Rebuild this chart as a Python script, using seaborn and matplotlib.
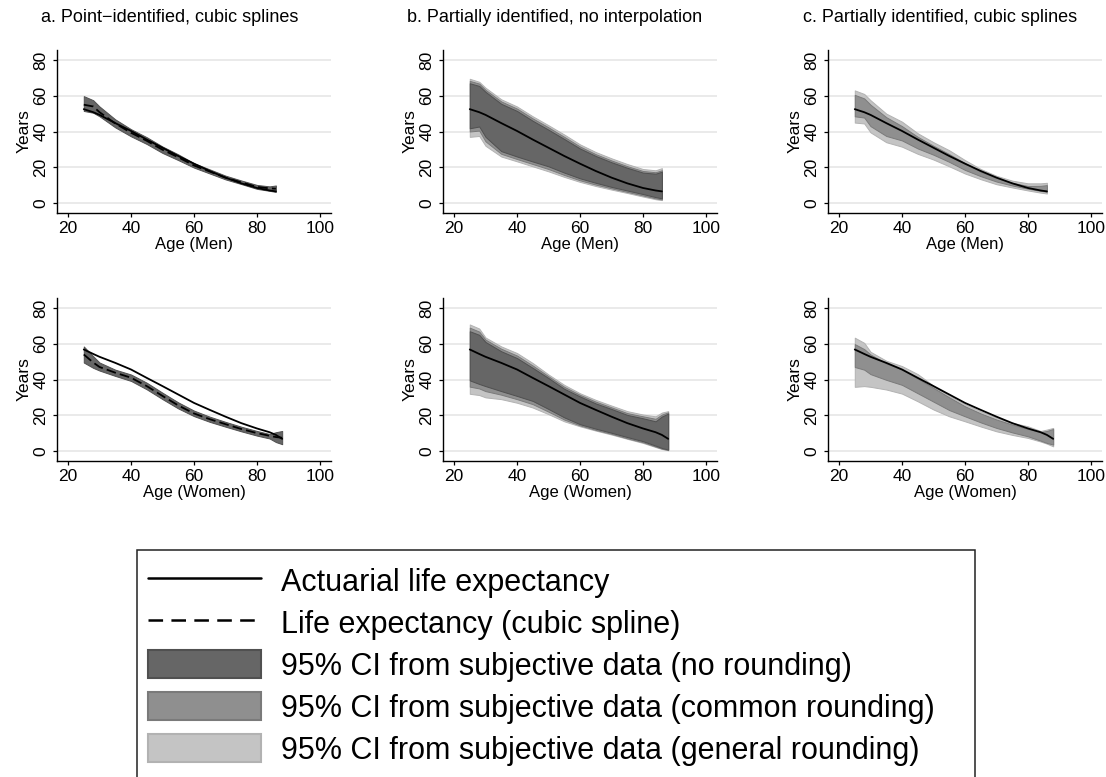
import matplotlib
matplotlib.use("Agg")
import matplotlib.pyplot as plt
import seaborn as sns
from matplotlib.patches import Rectangle, Patch
from matplotlib.lines import Line2D

# ---------------- data ----------------
ages_men = [25, 28, 30, 35, 40, 45, 50, 55, 60, 65, 70, 75, 80, 84, 86]
ages_women = [25, 28, 30, 35, 40, 45, 50, 55, 60, 65, 70, 75, 80, 84, 86, 88]

men_actuarial = [52.5, 50.8, 49.3, 44.7, 40.3, 35.5, 30.9, 26.3, 22.0, 17.9, 14.2, 11.0, 8.4, 7.0, 6.5]
women_actuarial = [56.8, 54.3, 52.7, 49.3, 45.6, 40.9, 36.3, 31.6, 26.9, 23.0, 19.2, 15.6, 12.6, 10.5, 9.0, 6.8]

# panel a: point-identified, cubic splines
men_spline = [55.0, 54.0, 50.8, 44.5, 39.3, 34.8, 29.8, 25.6, 21.0, 17.6, 14.2, 11.6, 9.0, 8.2, 8.0]
men_a_dark_lo = [51.5, 50.5, 48.5, 42.3, 37.3, 33.0, 28.0, 24.0, 19.8, 16.5, 13.2, 10.6, 7.9, 6.8, 6.2]
men_a_dark_hi = [59.8, 57.5, 54.0, 46.8, 41.3, 36.8, 31.6, 27.2, 22.3, 18.8, 15.3, 12.6, 10.1, 9.3, 9.8]

women_spline = [54.0, 49.5, 47.0, 43.8, 41.0, 36.3, 30.8, 25.5, 21.0, 17.8, 15.0, 12.3, 10.0, 8.5, 7.8, 7.4]
women_a_dark_lo = [49.5, 46.5, 45.0, 42.0, 39.2, 34.5, 29.0, 23.8, 19.5, 16.3, 13.6, 11.0, 8.6, 7.0, 5.0, 3.8]
women_a_dark_hi = [58.5, 53.0, 49.5, 45.5, 42.8, 38.2, 32.6, 27.2, 22.6, 19.2, 16.3, 13.6, 11.2, 9.5, 10.5, 11.2]

# panel b: partially identified, no interpolation
men_b_light_lo = [37.0, 37.5, 32.0, 26.0, 23.3, 20.5, 17.7, 14.6, 11.8, 9.5, 7.5, 5.6, 3.6, 2.1, 1.6]
men_b_light_hi = [69.5, 67.8, 64.5, 58.0, 54.0, 48.5, 43.5, 38.3, 32.8, 28.5, 25.0, 21.8, 19.0, 18.3, 19.5]
men_b_mid_lo = [40.0, 40.5, 34.5, 27.5, 24.6, 21.8, 19.0, 15.7, 12.7, 10.3, 8.2, 6.2, 4.2, 2.6, 2.0]
men_b_mid_hi = [68.3, 66.8, 63.3, 56.8, 52.8, 47.3, 42.3, 37.0, 31.6, 27.3, 23.8, 20.6, 17.9, 17.2, 18.3]
men_b_dark_lo = [41.8, 42.8, 37.0, 29.0, 26.0, 23.2, 20.5, 17.0, 13.8, 11.3, 9.0, 7.0, 5.0, 3.3, 2.6]
men_b_dark_hi = [67.0, 65.5, 62.2, 55.5, 51.5, 46.0, 41.0, 35.8, 30.5, 26.3, 22.8, 19.7, 17.0, 16.4, 17.5]

women_b_light_lo = [32.0, 31.3, 30.0, 29.0, 27.0, 24.3, 20.6, 16.6, 13.8, 11.4, 9.2, 6.8, 4.5, 2.2, 1.1, 0.4]
women_b_light_hi = [70.8, 68.5, 63.5, 58.5, 54.8, 49.2, 42.8, 37.0, 32.3, 28.6, 25.4, 22.3, 20.4, 19.4, 21.5, 22.3]
women_b_mid_lo = [36.0, 35.0, 33.5, 31.5, 29.0, 26.2, 22.0, 17.6, 14.3, 11.8, 9.6, 7.1, 4.9, 2.5, 1.3, 0.6]
women_b_mid_hi = [69.0, 66.8, 62.3, 57.2, 53.4, 47.8, 41.8, 35.9, 31.4, 27.6, 24.4, 21.2, 19.4, 18.0, 20.4, 21.6]
women_b_dark_lo = [39.5, 37.5, 36.3, 33.5, 30.8, 28.0, 23.5, 18.8, 15.0, 12.5, 10.2, 7.8, 5.5, 3.0, 1.7, 0.8]
women_b_dark_hi = [67.0, 65.0, 61.0, 55.8, 52.0, 46.5, 40.8, 34.8, 30.5, 26.6, 23.5, 20.2, 18.3, 16.6, 19.3, 20.9]

# panel c: partially identified, cubic splines
men_c_light_lo = [45.0, 44.5, 39.5, 34.0, 31.5, 27.5, 24.3, 20.5, 16.5, 13.3, 10.5, 8.7, 7.0, 5.8, 5.3]
men_c_light_hi = [63.0, 61.0, 57.5, 50.0, 45.5, 39.0, 34.0, 29.5, 24.0, 19.0, 15.2, 12.5, 11.0, 11.0, 11.3]
men_c_mid_lo = [48.5, 47.8, 43.0, 37.5, 35.0, 30.5, 27.0, 23.0, 18.5, 15.0, 12.0, 9.8, 8.0, 6.8, 6.3]
men_c_mid_hi = [60.5, 58.5, 55.0, 48.0, 43.0, 37.0, 32.0, 27.3, 22.3, 17.5, 14.0, 11.3, 9.5, 9.6, 10.0]

women_c_light_lo = [35.9, 36.3, 35.9, 34.4, 32.1, 27.8, 23.2, 19.4, 16.6, 13.7, 11.0, 9.0, 7.3, 5.3, 4.1, 2.6]
women_c_light_hi = [63.4, 60.5, 55.5, 50.5, 47.5, 43.0, 36.5, 30.8, 26.2, 22.2, 18.7, 15.8, 13.8, 11.2, 12.0, 12.9]
women_c_mid_lo = [47.0, 45.5, 43.0, 39.8, 37.0, 32.3, 27.6, 22.9, 19.4, 16.0, 12.9, 10.4, 8.2, 5.8, 4.5, 3.6]
women_c_mid_hi = [59.8, 57.0, 54.0, 49.0, 45.6, 40.5, 35.3, 30.0, 25.0, 21.0, 17.6, 14.8, 12.3, 10.6, 11.2, 12.3]

panel_titles = ["a. Point\u2212identified, cubic splines",
                "b. Partially identified, no interpolation",
                "c. Partially identified, cubic splines"]
xlabels = ["Age (Men)", "Age (Women)"]
x_ticks = [20, 40, 60, 80, 100]
y_ticks = [0, 20, 40, 60, 80]
legend_labels = ["Actuarial life expectancy",
                 "Life expectancy (cubic spline)",
                 "95% CI from subjective data (no rounding)",
                 "95% CI from subjective data (common rounding)",
                 "95% CI from subjective data (general rounding)"]

# ---------------- style ----------------
sns.set_theme(style="ticks")
plt.rcParams["font.family"] = ["Liberation Sans", "DejaVu Sans"]
plt.rcParams["lines.scale_dashes"] = False
plt.rcParams["axes.unicode_minus"] = True
plt.rcParams["text.color"] = "black"
plt.rcParams["axes.labelcolor"] = "black"
plt.rcParams["xtick.color"] = "black"
plt.rcParams["ytick.color"] = "black"

COLORS = {
    "dark": ("#666666", "#505050"),
    "mid": ("#8f8f8f", "#7a7a7a"),
    "light": ("#c4c4c4", "#b2b2b2"),
}

W, H = 1106, 777
fig = plt.figure(figsize=(W / 100, H / 100), dpi=100)
fig.patch.set_facecolor("white")


def fx(px):
    return px / W


def fy(py):
    return 1 - py / H


col_left = [57, 443, 828]
row_top = [50, 298]
ax_w, ax_h = 274, 163


def style_axes(ax, xlabel):
    ax.set_xlim(16.5, 103.5)
    ax.set_ylim(-5.6, 85.6)
    ax.set_xticks(x_ticks)
    ax.set_yticks(y_ticks)
    ax.yaxis.grid(True, color="#e4e4e4", lw=1.1)
    ax.xaxis.grid(False)
    ax.set_axisbelow(True)
    for s in ["top", "right"]:
        ax.spines[s].set_visible(False)
    for s in ["left", "bottom"]:
        ax.spines[s].set_color("black")
        ax.spines[s].set_linewidth(1.0)
    ax.tick_params(axis="both", direction="out", length=3.2, width=0.9,
                   color="black", labelsize=12.5, labelcolor="black",
                   left=True, bottom=True)
    ax.tick_params(axis="x", pad=2.5)
    ax.tick_params(axis="y", pad=3, labelrotation=90)
    for lab in ax.get_yticklabels():
        lab.set_va("center")
    ax.set_xlabel(xlabel, fontsize=12, labelpad=1, color="black")
    ax.set_ylabel("Years", fontsize=12.5, labelpad=1, color="black")
    ax.set_facecolor("white")


def band(ax, ages, lo, hi, key):
    fc, ec = COLORS[key]
    ax.fill_between(ages, lo, hi, facecolor=fc, edgecolor=ec, linewidth=0.7, zorder=2)


def solid(ax, ages, vals):
    sns.lineplot(x=ages, y=vals, ax=ax, color="black", lw=1.3, zorder=4)


def dashed(ax, ages, vals):
    sns.lineplot(x=ages, y=vals, ax=ax, color="black", lw=1.3, zorder=4, linestyle="--")
    ax.lines[-1].set_dashes([7, 3])


axes = {}
for r in range(2):
    for c in range(3):
        ax = fig.add_axes([fx(col_left[c]), fy(row_top[r] + ax_h), fx(ax_w), ax_h / H])
        axes[(r, c)] = ax

# panel a
band(axes[(0, 0)], ages_men, men_a_dark_lo, men_a_dark_hi, "dark")
solid(axes[(0, 0)], ages_men, men_actuarial)
dashed(axes[(0, 0)], ages_men, men_spline)
band(axes[(1, 0)], ages_women, women_a_dark_lo, women_a_dark_hi, "dark")
solid(axes[(1, 0)], ages_women, women_actuarial)
dashed(axes[(1, 0)], ages_women, women_spline)

# panel b
band(axes[(0, 1)], ages_men, men_b_light_lo, men_b_light_hi, "light")
band(axes[(0, 1)], ages_men, men_b_mid_lo, men_b_mid_hi, "mid")
band(axes[(0, 1)], ages_men, men_b_dark_lo, men_b_dark_hi, "dark")
solid(axes[(0, 1)], ages_men, men_actuarial)
band(axes[(1, 1)], ages_women, women_b_light_lo, women_b_light_hi, "light")
band(axes[(1, 1)], ages_women, women_b_mid_lo, women_b_mid_hi, "mid")
band(axes[(1, 1)], ages_women, women_b_dark_lo, women_b_dark_hi, "dark")
solid(axes[(1, 1)], ages_women, women_actuarial)

# panel c
band(axes[(0, 2)], ages_men, men_c_light_lo, men_c_light_hi, "light")
band(axes[(0, 2)], ages_men, men_c_mid_lo, men_c_mid_hi, "mid")
solid(axes[(0, 2)], ages_men, men_actuarial)
band(axes[(1, 2)], ages_women, women_c_light_lo, women_c_light_hi, "light")
band(axes[(1, 2)], ages_women, women_c_mid_lo, women_c_mid_hi, "mid")
solid(axes[(1, 2)], ages_women, women_actuarial)

for (r, c), ax in axes.items():
    style_axes(ax, xlabels[r])

# titles
title_x = [170, 555, 940]
for c in range(3):
    fig.text(fx(title_x[c]), fy(18), panel_titles[c], ha="center", va="center",
             fontsize=13, color="black")

# legend
handles = [
    Line2D([], [], color="black", lw=1.8),
    Line2D([], [], color="black", lw=1.8, dashes=(10.5, 6)),
    Patch(facecolor=COLORS["dark"][0], edgecolor=COLORS["dark"][1], lw=1.5),
    Patch(facecolor=COLORS["mid"][0], edgecolor=COLORS["mid"][1], lw=1.5),
    Patch(facecolor=COLORS["light"][0], edgecolor=COLORS["light"][1], lw=1.5),
]
leg = fig.legend(handles, legend_labels, loc="upper left",
                 bbox_to_anchor=(fx(148), fy(566)), frameon=False, fontsize=22.0,
                 handlelength=3.7, handleheight=1.05, handletextpad=0.65,
                 labelspacing=0.34, borderpad=0, borderaxespad=0)
for t in leg.get_texts():
    t.set_color("black")
fig.add_artist(Rectangle((fx(137), fy(820)), fx(975) - fx(137), fy(550) - fy(820),
                         transform=fig.transFigure, fill=False, edgecolor="#222222",
                         lw=1.1, clip_on=False))

fig.savefig("out.png", dpi=100, facecolor="white")
